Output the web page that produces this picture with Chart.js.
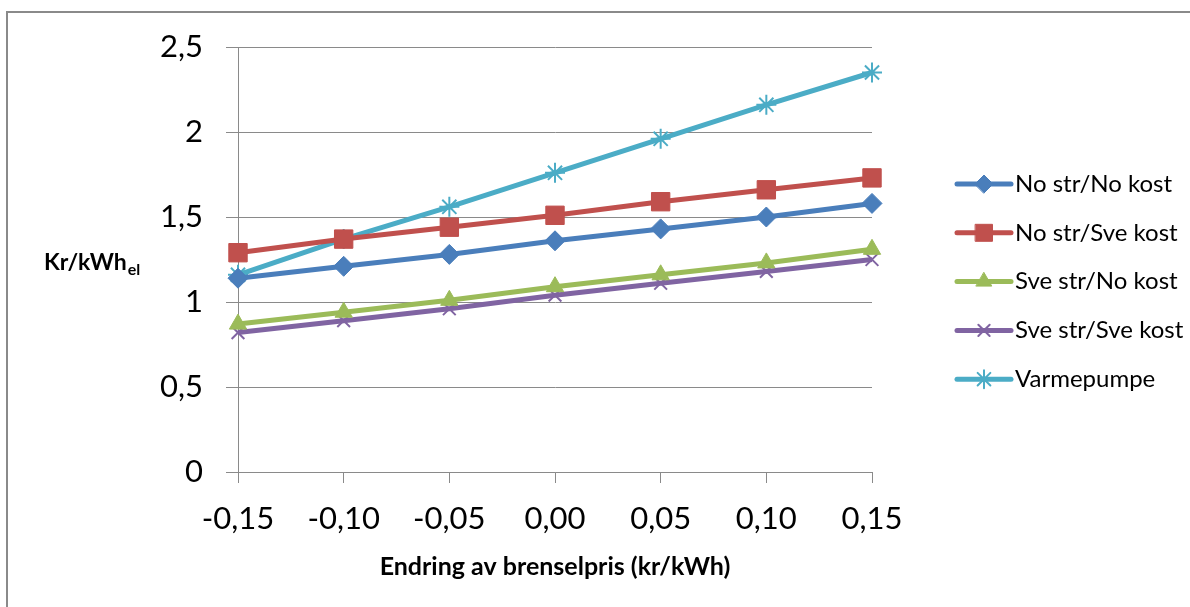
<!DOCTYPE html>
<html>
<head>
<meta charset="utf-8">
<script src="https://cdn.jsdelivr.net/npm/chart.js@4/dist/chart.umd.min.js"></script>
<style>
  html, body { margin: 0; padding: 0; background: #fff; }
  #wrap { position: relative; width: 1190px; height: 607px; }
  #frame { position: absolute; left: 6px; top: 11px; width: 1200px; height: 700px;
           border-left: 2px solid #8a8a8a; border-top: 2px solid #8a8a8a; }
</style>
</head>
<body>
<div id="wrap">
  <div id="frame"></div>
  <canvas id="lineChart" width="1190" height="607" style="position:absolute;left:0;top:0"></canvas>
</div>
<script>
// x categories (endring av brenselpris, kr/kWh)
const xLabels = ['-0,15', '-0,10', '-0,05', '0,00', '0,05', '0,10', '0,15'];

// series values, Kr/kWh_el
const noStrNoKost   = [1.14, 1.21, 1.28, 1.36, 1.43, 1.50, 1.58];
const noStrSveKost  = [1.29, 1.37, 1.44, 1.51, 1.59, 1.66, 1.73];
const sveStrNoKost  = [0.87, 0.94, 1.01, 1.09, 1.16, 1.23, 1.31];
const sveStrSveKost = [0.82, 0.89, 0.96, 1.04, 1.11, 1.18, 1.25];
const varmepumpe    = [1.16, 1.37, 1.56, 1.76, 1.96, 2.16, 2.35];

const seriesNames = ['No str/No kost', 'No str/Sve kost', 'Sve str/No kost', 'Sve str/Sve kost', 'Varmepumpe'];
const yTicks = [0, 0.5, 1, 1.5, 2, 2.5];

const fontFamily = 'Lato, "Liberation Sans", sans-serif';

function ds(label, data, color, style, radius, bw) {
  return {
    label: label,
    data: data,
    borderColor: color,
    backgroundColor: color,
    borderWidth: 5,
    pointStyle: style,
    pointRadius: radius,
    pointHoverRadius: radius,
    pointBorderWidth: bw,
    pointBackgroundColor: color,
    pointBorderColor: color,
    tension: 0
  };
}

// custom legend: line + marker, like Excel
const sideLegend = {
  id: 'sideLegend',
  afterDraw(chart) {
    const ctx = chart.ctx;
    const x0 = 957, x1 = 1011, y0 = 184, step = 48.8;
    chart.data.datasets.forEach((d, i) => {
      const y = y0 + i * step;
      ctx.save();
      ctx.strokeStyle = d.borderColor;
      ctx.lineWidth = 5;
      ctx.lineCap = 'round';
      ctx.beginPath();
      ctx.moveTo(x0, y);
      ctx.lineTo(x1, y);
      ctx.stroke();
      ctx.fillStyle = d.pointBackgroundColor;
      ctx.strokeStyle = d.pointBorderColor;
      ctx.lineWidth = d.pointBorderWidth;
      Chart.helpers.drawPoint(ctx, {
        pointStyle: d.pointStyle,
        radius: d.pointRadius - 1,
        rotation: 0,
        borderWidth: d.pointBorderWidth
      }, (x0 + x1) / 2, y);
      ctx.fillStyle = '#000';
      ctx.font = '24px ' + fontFamily;
      ctx.textBaseline = 'middle';
      ctx.textAlign = 'left';
      ctx.fillText(d.label, 1015, y);
      ctx.restore();
    });
  }
};

// horizontal y title with subscript
const yTitle = {
  id: 'yTitle',
  afterDraw(chart) {
    const ctx = chart.ctx;
    ctx.save();
    ctx.fillStyle = '#000';
    ctx.textBaseline = 'alphabetic';
    ctx.textAlign = 'left';
    ctx.font = 'bold 23px ' + fontFamily;
    ctx.fillText('Kr/kWh', 44, 270);
    const w = ctx.measureText('Kr/kWh').width;
    ctx.font = 'bold 16px ' + fontFamily;
    ctx.fillText('el', 44 + w + 1, 275);
    ctx.restore();
  }
};

const ctx = document.getElementById('lineChart').getContext('2d');
let lineChart = new Chart(ctx, {
  type: 'line',
  data: {
    labels: xLabels,
    datasets: [
      ds(seriesNames[0], noStrNoKost,   '#4a7ebb', 'rectRot',  10, 1),
      ds(seriesNames[1], noStrSveKost,  '#c0504d', 'rect',     13, 1),
      ds(seriesNames[2], sveStrNoKost,  '#9bbb59', 'triangle', 10, 1),
      ds(seriesNames[3], sveStrSveKost, '#8064a2', 'crossRot', 9,  2),
      ds(seriesNames[4], varmepumpe,    '#4bacc6', 'star',     10, 2)
    ]
  },
  options: {
    responsive: false,
    animation: false,
    devicePixelRatio: 1,
    layout: { padding: { left: 0, top: 47, right: 318, bottom: 0 } },
    plugins: {
      legend: { display: false },
      tooltip: { enabled: false },
      title: { display: false }
    },
    scales: {
      x: {
        type: 'category',
        offset: false,
        grid: { display: true, drawOnChartArea: false, drawTicks: true, tickLength: 11, color: '#8a8a8a', lineWidth: 1 },
        border: { display: true, color: '#8a8a8a', width: 1 },
        ticks: { color: '#000', font: { family: fontFamily, size: 31 }, padding: 17, maxRotation: 0, autoSkip: false },
        title: { display: true, text: 'Endring av brenselpris (kr/kWh)', color: '#000',
                 font: { family: fontFamily, size: 25, weight: 'bold' }, padding: { top: 0, bottom: 25 } },
        afterFit(scale) { scale.height = 135; }
      },
      y: {
        min: 0,
        max: 2.5,
        afterBuildTicks(scale) { scale.ticks = yTicks.map(v => ({ value: v })); },
        grid: { color: '#8a8a8a', lineWidth: 1, drawTicks: true, tickLength: 12 },
        border: { display: true, color: '#8a8a8a', width: 1 },
        ticks: {
          color: '#000',
          font: { family: fontFamily, size: 31 },
          padding: 23,
          callback: v => String(v).replace('.', ',')
        },
        afterFit(scale) { scale.width = 238; }
      }
    }
  },
  plugins: [sideLegend, yTitle]
});
</script>
</body>
</html>
